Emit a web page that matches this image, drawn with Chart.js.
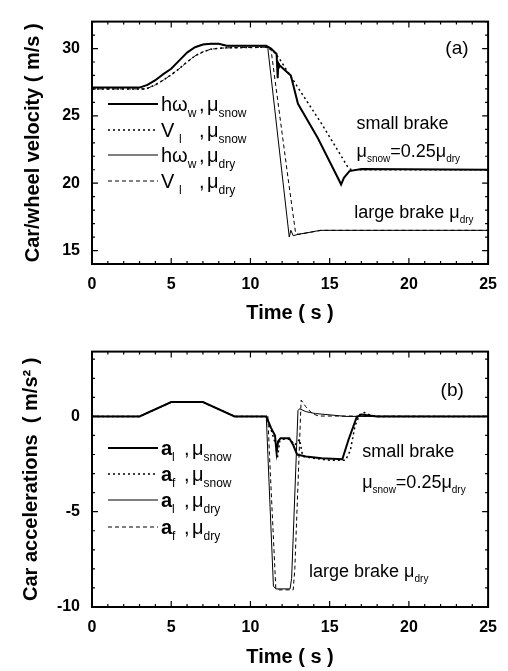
<!DOCTYPE html>
<html>
<head>
<meta charset="utf-8">
<script src="https://cdn.jsdelivr.net/npm/chart.js@4.4.0/dist/chart.umd.min.js"></script>
<style>
  body { margin: 0; background: #fff; }
  canvas { position: absolute; left: 0; }
  #vel { top: 0; }
  #acc { top: 330px; }
</style>
</head>
<body>
<canvas id="vel" width="508" height="330"></canvas>
<canvas id="acc" width="508" height="341"></canvas>
<script>
// ---- panel (a): car / wheel velocity ----
var tHwSnow = [0, 3.0, 3.5, 4.0, 4.5, 5.0, 5.5, 6.0, 6.5, 7.0, 7.5, 8.0, 8.5, 11.0, 11.3, 11.65, 11.72, 11.76, 11.8, 12.55, 13.0, 14.25, 15.6, 15.72, 15.9, 16.25, 17.0, 25];
var vHwSnow = [27.1, 27.1, 27.3, 27.65, 28.1, 28.5, 29.1, 29.7, 30.1, 30.3, 30.35, 30.35, 30.2, 30.2, 30.0, 29.6, 27.8, 28.9, 28.8, 28.0, 25.9, 23.35, 20.2, 19.9, 20.4, 20.9, 21.05, 21.0];

var tVSnow = [0, 3.4, 4.0, 4.5, 5.0, 5.5, 6.0, 6.5, 7.0, 7.5, 8.0, 8.5, 11.0, 11.4, 11.85, 13.0, 14.5, 16.2, 16.4, 25];
var vVSnow = [27.0, 27.0, 27.3, 27.65, 28.05, 28.5, 29.0, 29.45, 29.75, 29.95, 30.02, 30.05, 30.1, 29.9, 29.2, 27.1, 24.4, 21.1, 21.0, 21.0];

var tHwDry = [0, 3.0, 3.5, 4.0, 4.5, 5.0, 5.5, 6.0, 6.5, 7.0, 7.5, 8.0, 8.5, 11.0, 11.1, 12.45, 12.55, 12.7, 13.0, 13.5, 14.4, 25];
var vHwDry = [27.1, 27.1, 27.3, 27.65, 28.1, 28.5, 29.1, 29.7, 30.1, 30.3, 30.35, 30.35, 30.2, 30.2, 30.0, 16.0, 16.5, 16.1, 16.2, 16.3, 16.5, 16.5];

var tVDry = [0, 3.4, 4.0, 4.5, 5.0, 5.5, 6.0, 6.5, 7.0, 7.5, 8.0, 8.5, 11.0, 11.3, 12.36, 12.85, 13.0, 14.5, 25];
var vVDry = [27.0, 27.0, 27.3, 27.65, 28.05, 28.5, 29.0, 29.45, 29.75, 29.95, 30.02, 30.05, 30.1, 29.9, 20.5, 16.3, 16.2, 16.5, 16.5];

var velTicks = [15, 20, 25, 30];

// ---- panel (b): car accelerations ----
var tAlSnow = [0, 3, 5, 7, 9, 11, 11.3, 11.55, 11.65, 11.75, 11.9, 12.45, 12.7, 12.95, 13.5, 14.5, 15.8, 16.2, 16.7, 17.0, 17.5, 18, 25];
var aAlSnow = [0, 0, 0.75, 0.75, 0, 0, -0.6, -1.0, -1.9, -1.3, -1.15, -1.15, -1.5, -2.0, -2.1, -2.2, -2.25, -1.2, -0.05, 0.1, 0.05, 0, 0];

var tAfSnow = [0, 3, 5, 7, 9, 11, 11.3, 11.6, 11.7, 11.85, 12.0, 12.5, 12.8, 13.1, 13.3, 14, 15, 16.0, 16.3, 16.6, 16.9, 17.2, 17.6, 18, 25];
var aAfSnow = [0, 0, 0.75, 0.75, 0, 0, -0.7, -1.5, -2.2, -1.3, -1.2, -1.2, -1.5, -1.2, -2.1, -2.2, -2.3, -2.3, -1.8, -0.5, 0.1, 0.2, 0.05, 0, 0];

var tAlDry = [0, 3, 5, 7, 9, 11, 11.1, 11.45, 11.6, 12.5, 12.6, 13.0, 13.1, 13.5, 14.1, 15.4, 16, 25];
var aAlDry = [0, 0, 0.75, 0.75, 0, 0, -2, -8.9, -9.05, -9.05, -8.5, 0.3, 0.4, 0.25, 0.15, 0.05, 0, 0];

var tAfDry = [0, 3, 5, 7, 9, 11.1, 11.2, 11.6, 11.8, 12.7, 12.8, 13.2, 13.5, 13.9, 14.3, 25];
var aAfDry = [0, 0, 0.75, 0.75, 0, 0, -2, -9.0, -9.1, -9.1, -8, 0.85, 0.5, 0.15, 0.02, 0];

var accTicks = [-10, -5, 0];
var timeTicks = [0, 5, 10, 15, 20, 25];

var FONT = '"Liberation Sans", Arial, sans-serif';

function pts(t, v) {
    return t.map(function (x, i) { return { x: x, y: v[i] }; });
}

function series(t, v, width, dash) {
    return {
        data: pts(t, v),
        borderColor: '#000',
        borderWidth: width,
        borderDash: dash,
        pointRadius: 0,
        tension: 0,
        fill: false,
    };
}

// draws text made of normal and subscript pieces
function drawRich(ctx, x, y, parts, size) {
    parts.forEach(function (p) {
        if (p.at !== undefined) x = p.at;
        var s = p.sub ? Math.round(size * 0.58) : size;
        ctx.font = (p.bold ? 'bold ' : '') + s + 'px ' + FONT;
        ctx.fillText(p.t, x, p.sub ? y + Math.round(size * 0.28) : y);
        x += ctx.measureText(p.t).width;
    });
}

// box round the plot, with inward ticks on all four sides
var framePlugin = {
    id: 'frame',
    afterDraw: function (chart) {
        var ctx = chart.ctx, a = chart.chartArea;
        var xs = chart.scales.x, ys = chart.scales.y;
        var v, p, len;
        ctx.save();
        ctx.strokeStyle = '#000';
        ctx.lineWidth = 1.2;
        ctx.beginPath();
        for (v = Math.ceil(xs.min); v <= xs.max; v++) {
            p = xs.getPixelForValue(v);
            len = v % 5 === 0 ? 6 : 3;
            ctx.moveTo(p, a.bottom); ctx.lineTo(p, a.bottom - len);
            ctx.moveTo(p, a.top); ctx.lineTo(p, a.top + len);
        }
        for (v = Math.ceil(ys.min); v <= ys.max; v++) {
            p = ys.getPixelForValue(v);
            len = v % 5 === 0 ? 6 : 3;
            ctx.moveTo(a.left, p); ctx.lineTo(a.left + len, p);
            ctx.moveTo(a.right, p); ctx.lineTo(a.right - len, p);
        }
        ctx.stroke();
        ctx.lineWidth = 2;
        ctx.strokeRect(a.left, a.top, a.right - a.left, a.bottom - a.top);
        ctx.restore();
    }
};

// hand-made legend and the notes inside the plot
function notes(legend, labels) {
    return {
        id: 'notes',
        afterDraw: function (chart) {
            var ctx = chart.ctx, xs = chart.scales.x, ys = chart.scales.y;
            ctx.save();
            ctx.fillStyle = '#000';
            ctx.strokeStyle = '#000';
            ctx.textBaseline = 'alphabetic';
            ctx.textAlign = 'left';
            legend.rows.forEach(function (row, i) {
                var ds = chart.data.datasets[i];
                var y = legend.y[i];
                ctx.lineWidth = ds.borderWidth;
                ctx.setLineDash(ds.borderDash || []);
                ctx.beginPath();
                ctx.moveTo(legend.x0, y);
                ctx.lineTo(legend.x1, y);
                ctx.stroke();
                drawRich(ctx, legend.x1 + 3, y + 7, row, 20);
            });
            ctx.setLineDash([]);
            labels.forEach(function (lb) {
                drawRich(ctx, xs.getPixelForValue(lb.x), ys.getPixelForValue(lb.y), lb.parts, lb.size);
            });
            ctx.restore();
        }
    };
}

function axes(yMin, yMax, yTicks, yTitle, xHeight, yPad, xPad) {
    return {
        x: {
            type: 'linear',
            min: 0,
            max: 25,
            grid: { display: false, drawTicks: false },
            border: { display: false },
            afterBuildTicks: function (s) { s.ticks = timeTicks.map(function (v) { return { value: v }; }); },
            afterFit: function (s) { s.height = xHeight; },
            ticks: { color: '#000', padding: 11, maxRotation: 0, font: { family: FONT, size: 16, weight: 'bold' } },
            title: { display: true, text: 'Time ( s )', color: '#000', padding: { top: 0, bottom: xPad }, font: { family: FONT, size: 20, weight: 'bold' } },
        },
        y: {
            min: yMin,
            max: yMax,
            grid: { display: false, drawTicks: false },
            border: { display: false },
            afterBuildTicks: function (s) { s.ticks = yTicks.map(function (v) { return { value: v }; }); },
            afterFit: function (s) { s.width = 92; },
            ticks: { color: '#000', padding: 12, font: { family: FONT, size: 16, weight: 'bold' } },
            title: { display: true, text: yTitle, color: '#000', padding: { top: yPad, bottom: 0 }, font: { family: FONT, size: 20, weight: 'bold' } },
        },
    };
}

function sn(t) { return { t: t, sub: true }; }

new Chart(document.getElementById('vel'), {
    type: 'line',
    data: {
        datasets: [
            series(tHwSnow, vHwSnow, 2, []),
            series(tVSnow, vVSnow, 1.5, [2, 3]),
            series(tHwDry, vHwDry, 1, []),
            series(tVDry, vVDry, 1, [4, 3]),
        ],
    },
    options: {
        responsive: false,
        animation: false,
        devicePixelRatio: 1,
        layout: { padding: { top: 8, right: 19, left: 0, bottom: 0 } },
        scales: axes(14, 32, velTicks, 'Car/wheel velocity ( m/s )', 66, 21, 5),
        plugins: { legend: { display: false }, tooltip: { enabled: false } },
    },
    plugins: [framePlugin, notes(
        {
            x0: 108, x1: 158, y: [104, 130, 155, 181],
            rows: [
                [{ t: 'hω' }, sn('w'), { t: ',', at: 199 }, { t: 'μ', at: 207 }, sn('snow')],
                [{ t: 'V' }, { t: 'l', sub: true, at: 179 }, { t: ',', at: 199 }, { t: 'μ', at: 207 }, sn('snow')],
                [{ t: 'hω' }, sn('w'), { t: ',', at: 199 }, { t: 'μ', at: 207 }, sn('dry')],
                [{ t: 'V' }, { t: 'l', sub: true, at: 179 }, { t: ',', at: 199 }, { t: 'μ', at: 207 }, sn('dry')],
            ],
        },
        [
            { x: 16.7, y: 24.05, size: 18, parts: [{ t: 'small brake' }] },
            { x: 16.7, y: 21.95, size: 18, parts: [{ t: 'μ' }, sn('snow'), { t: '=0.25μ' }, sn('dry')] },
            { x: 16.55, y: 17.45, size: 18, parts: [{ t: 'large brake μ' }, sn('dry')] },
            { x: 22.3, y: 29.6, size: 19, parts: [{ t: '(a)' }] },
        ]
    )],
});

new Chart(document.getElementById('acc'), {
    type: 'line',
    data: {
        datasets: [
            series(tAlSnow, aAlSnow, 2, []),
            series(tAfSnow, aAfSnow, 1.5, [2, 3]),
            series(tAlDry, aAlDry, 1, []),
            series(tAfDry, aAfDry, 1, [4, 3]),
        ],
    },
    options: {
        responsive: false,
        animation: false,
        devicePixelRatio: 1,
        layout: { padding: { top: 13, right: 19, left: 0, bottom: 0 } },
        scales: axes(-10, 3.4, accTicks, 'Car accelerations  ( m/s² )', 64, 19, 2),
        plugins: { legend: { display: false }, tooltip: { enabled: false } },
    },
    plugins: [framePlugin, notes(
        {
            x0: 108, x1: 158, y: [118, 144, 170, 197],
            rows: [
                [{ t: 'a', bold: true }, { t: 'l', sub: true, at: 172 }, { t: ',', at: 184 }, { t: 'μ', at: 192 }, sn('snow')],
                [{ t: 'a', bold: true }, { t: 'f', sub: true, at: 172 }, { t: ',', at: 184 }, { t: 'μ', at: 192 }, sn('snow')],
                [{ t: 'a', bold: true }, { t: 'l', sub: true, at: 172 }, { t: ',', at: 184 }, { t: 'μ', at: 192 }, sn('dry')],
                [{ t: 'a', bold: true }, { t: 'f', sub: true, at: 172 }, { t: ',', at: 184 }, { t: 'μ', at: 192 }, sn('dry')],
            ],
        },
        [
            { x: 17.05, y: -2.15, size: 18, parts: [{ t: 'small brake' }] },
            { x: 17.05, y: -3.75, size: 18, parts: [{ t: 'μ' }, sn('snow'), { t: '=0.25μ' }, sn('dry')] },
            { x: 13.7, y: -8.4, size: 18, parts: [{ t: 'large brake μ' }, sn('dry')] },
            { x: 22.0, y: 1.05, size: 19, parts: [{ t: '(b)' }] },
        ]
    )],
});
</script>
</body>
</html>
